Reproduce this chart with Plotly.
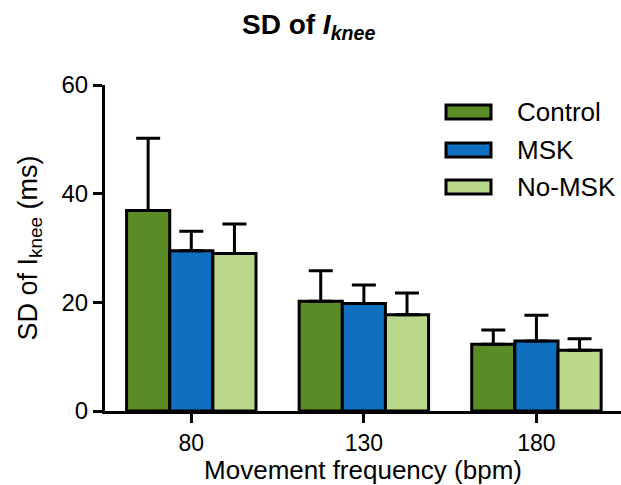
import plotly.graph_objects as go

categories = ["80", "130", "180"]
series_names = ["Control", "MSK", "No-MSK"]
control_mean = [36.9, 20.2, 12.3]
control_sd = [13.3, 5.6, 2.6]
msk_mean = [29.5, 19.8, 12.9]
msk_sd = [3.6, 3.4, 4.7]
nomsk_mean = [29.0, 17.7, 11.2]
nomsk_sd = [5.4, 4.0, 2.1]

colors = ["#5a8b24", "#0f6fc0", "#b9d88b"]
means = [control_mean, msk_mean, nomsk_mean]
sds = [control_sd, msk_sd, nomsk_sd]

W, H = 621, 485
L, R, T, B = 105, 0, 85, 74
PW, PH = W - L - R, H - T - B

fig = go.Figure()
for name, m, s, c in zip(series_names, means, sds, colors):
    fig.add_trace(go.Bar(
        x=categories, y=m, name=name,
        marker=dict(color=c, line=dict(color="black", width=3)),
        error_y=dict(type="data", array=s, arrayminus=[0] * len(s), symmetric=False,
                     color="black", thickness=3, width=12),
        showlegend=False,
    ))

FONT = "Liberation Sans, Arial, sans-serif"

def px_x(p):
    return (p - L) / PW

def px_y(p):
    return (H - B - p) / PH

shapes = []
annotations = []
leg_y = [112, 150, 187]
for name, c, yc in zip(series_names, colors, leg_y):
    shapes.append(dict(type="rect", xref="paper", yref="paper",
                       x0=px_x(446), x1=px_x(491), y0=px_y(yc - 7), y1=px_y(yc + 7),
                       fillcolor=c, line=dict(color="black", width=3)))
    annotations.append(dict(text=name, xref="paper", yref="paper",
                            x=px_x(515), y=px_y(yc), xanchor="left", yanchor="middle",
                            showarrow=False, font=dict(family=FONT, size=26, color="black")))

fig.update_layout(
    width=W, height=H,
    margin=dict(l=L, r=R, t=T, b=B),
    paper_bgcolor="white", plot_bgcolor="white",
    barmode="group", bargap=0.25, bargroupgap=0,
    font=dict(family=FONT, size=24, color="black"),
    title=dict(text="<b>SD of <i>I</i><sub><i>knee</i></sub></b>",
               x=0.497, xanchor="center", y=1 - 24 / H, yanchor="middle", yref="container",
               font=dict(family=FONT, size=28, color="black")),
    xaxis=dict(range=[-0.5, 2.49], showline=True, linecolor="black", linewidth=3,
               ticks="outside", ticklen=9, tickwidth=3, tickcolor="black",
               showgrid=False, zeroline=False, automargin=False,
               title=dict(text="Movement frequency (bpm)", font=dict(size=26), standoff=0),
               tickfont=dict(size=23)),
    yaxis=dict(range=[0, 60], dtick=20, showline=True, linecolor="black", linewidth=3,
               ticks="outside", ticklen=9, tickwidth=3, tickcolor="black",
               showgrid=False, zeroline=False, automargin=False,
               title=dict(text="SD of I<sub>knee</sub> (ms)", font=dict(size=27), standoff=17),
               tickfont=dict(size=24)),
    shapes=shapes, annotations=annotations,
)

fig.write_html("out.html", config={"displayModeBar": False},
               post_script="document.body.style.margin='0';document.body.style.padding='0';")
